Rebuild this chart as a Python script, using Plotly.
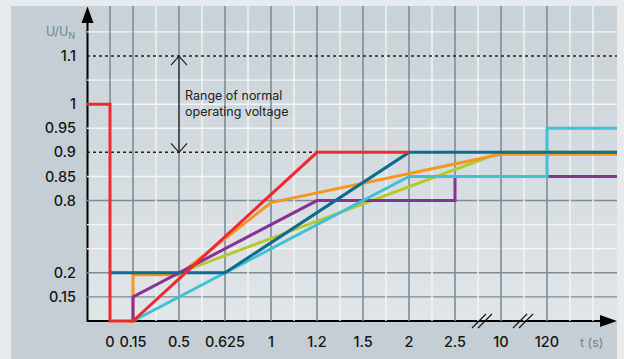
import numpy as np
import plotly.graph_objects as go

# ---------------- data ----------------
t_ticks = [0, 0.15, 0.5, 0.625, 1, 1.2, 1.5, 2, 2.5, 10, 120]
t_tick_labels = ["0", "0.15", "0.5", "0.625", "1", "1.2", "1.5", "2", "2.5", "10", "120"]
v_ticks = [0.15, 0.2, 0.8, 0.85, 0.9, 0.95, 1, 1.1]
v_tick_labels = ["0.15", "0.2", "0.8", "0.85", "0.9", "0.95", "1", "1.1"]

START, END = -np.inf, np.inf   # "from the y axis" / "to the right edge"

red_t = [START, 0, 0, 0.15, 1.2, 2]
red_v = [1, 1, 0, 0, 0.9, 0.9]
darkblue_t = [0, 0.625, 2, END]
darkblue_v = [0.2, 0.2, 0.9, 0.9]
orange_t = [0.15, 0.15, 0.5, 1, 10, END]
orange_v = [0, 0.2, 0.2, 0.8, 0.9, 0.9]
green_t = [0.15, 0.5, 10, END]
green_v = [0.2, 0.2, 0.9, 0.9]
purple_t = [0.15, 0.15, 1.2, 2.5, 2.5, END]
purple_v = [0, 0.15, 0.8, 0.8, 0.85, 0.85]
cyan_t = [0.15, 2, 120, 120, END]
cyan_v = [0, 0.85, 0.85, 0.95, 0.95]

# ---------------- scale (broken axes) ----------------
W, H = 624, 359
L, R, T, B = 85, 7, 6, 36
PW, PH = W - L - R, H - T - B
PX_U = 23.0          # px per x grid unit
PX_ROW = 24.09       # px per y grid row
X_ORIGIN_PX, Y_ORIGIN_PX = 110, 321

t_break = [0, 0.15, 0.5, 0.625, 1, 1.2, 1.5, 2, 2.5, 10, 120]
x_break = [0, 1, 3, 5, 7, 9, 11, 13, 15, 17, 19]
v_break = [0, 0.15, 0.2, 0.8, 0.85, 0.9, 0.95, 1, 1.1]
y_break = [0, 1, 2, 5, 6, 7, 8, 9, 11]

X_LO = (L - X_ORIGIN_PX) / PX_U
X_HI = (W - R - X_ORIGIN_PX) / PX_U
Y_LO = -(H - B - Y_ORIGIN_PX) / PX_ROW
Y_HI = (Y_ORIGIN_PX - T) / PX_ROW
X_AXIS = -1.0


def xmap(ts):
    ts = np.asarray(ts, dtype=float)
    out = np.interp(np.clip(ts, 0, 1e9), t_break, x_break)
    out = np.where(np.isneginf(ts), X_AXIS, out)
    out = np.where(np.isposinf(ts), X_HI, out)
    return out


def ymap(vs):
    return np.interp(np.asarray(vs, dtype=float), v_break, y_break)


def pxX(px):
    return (px - L) / PW


def pxY(py):
    return (H - B - py) / PH


fig = go.Figure()

# ---------------- background ----------------
shapes = []
shapes.append(dict(type="rect", xref="paper", yref="paper", x0=pxX(11), x1=pxX(617),
                   y0=pxY(360), y1=pxY(6), fillcolor="#c4ced4", line=dict(width=0), layer="below"))
top_c = np.array([0xc9, 0xd2, 0xd8])
bot_c = np.array([0xe1, 0xe6, 0xe9])
nb = 40
for i in range(nb):
    y0 = 6 + (321 - 6) * i / nb
    y1 = 6 + (321 - 6) * (i + 1) / nb
    c = top_c + (bot_c - top_c) * (i + 0.5) / nb
    shapes.append(dict(type="rect", xref="paper", yref="paper", x0=pxX(87.5), x1=pxX(617),
                       y0=pxY(y1 + 0.5), y1=pxY(y0), fillcolor="rgb(%d,%d,%d)" % tuple(c),
                       line=dict(width=0), layer="below"))

DARK_GRID = "#7d8c95"
WHITE_GRID = "#f3f5f6"
# horizontal grid
for row in range(1, 13):
    if row in (7, 11):
        continue
    col = DARK_GRID if row in (1, 2, 5) else WHITE_GRID
    shapes.append(dict(type="line", xref="x", yref="y", x0=X_AXIS, x1=X_HI, y0=row, y1=row,
                       line=dict(color=col, width=1.4), layer="below"))
# vertical grid
for u in range(0, 22):
    if u in x_break:
        col, w = DARK_GRID, 1.6
    elif u >= 2:
        col, w = WHITE_GRID, 1.4
    else:
        continue
    shapes.append(dict(type="line", xref="x", yref="y", x0=u, x1=u, y0=0, y1=Y_HI,
                       line=dict(color=col, width=w), layer="below"))
# dotted limits of the normal operating range
for v in (0.9, 1.1):
    yy = float(ymap(v))
    shapes.append(dict(type="line", xref="x", yref="y", x0=X_AXIS, x1=X_HI, y0=yy, y1=yy,
                       line=dict(color="#222222", width=1.5, dash="dot"), layer="below"))

# axes lines
shapes.append(dict(type="line", xref="paper", yref="paper", x0=pxX(87.5), x1=pxX(601),
                   y0=pxY(321), y1=pxY(321), line=dict(color="#000000", width=2), layer="below"))
shapes.append(dict(type="line", xref="paper", yref="paper", x0=pxX(87.5), x1=pxX(87.5),
                   y0=pxY(322), y1=pxY(22), line=dict(color="#000000", width=2), layer="below"))


def ppath(pts):
    return "M " + " L ".join("%.5f,%.5f" % (pxX(a), pxY(b)) for a, b in pts) + " Z"


# arrow heads
shapes.append(dict(type="path", xref="paper", yref="paper",
                   path=ppath([(87.5, 6.5), (81.5, 23), (93.5, 23)]),
                   fillcolor="#000000", line=dict(width=0), layer="above"))
shapes.append(dict(type="path", xref="paper", yref="paper",
                   path=ppath([(617, 321), (600, 315), (600, 327)]),
                   fillcolor="#000000", line=dict(width=0), layer="above"))
# axis break marks
for cx in (482, 523):
    for dx in (-3, 3):
        shapes.append(dict(type="line", xref="paper", yref="paper",
                           x0=pxX(cx + dx - 7), y0=pxY(328), x1=pxX(cx + dx + 7), y1=pxY(314),
                           line=dict(color="#111111", width=1.1), layer="above"))

# double arrow (range of normal operating voltage)
ax_x = float(xmap(0.5))
y_top, y_bot = float(ymap(1.1)), float(ymap(0.9))
hw, hh = 8 / PX_U, 9 / PX_ROW
shapes.append(dict(type="line", xref="x", yref="y", x0=ax_x, x1=ax_x, y0=y_top, y1=y_bot,
                   line=dict(color="#1a1a1a", width=1.1), layer="below"))
shapes.append(dict(type="path", xref="x", yref="y",
                   path="M %f,%f L %f,%f L %f,%f" % (ax_x - hw, y_top - hh, ax_x, y_top, ax_x + hw, y_top - hh),
                   line=dict(color="#1a1a1a", width=1.1), layer="below"))
shapes.append(dict(type="path", xref="x", yref="y",
                   path="M %f,%f L %f,%f L %f,%f" % (ax_x - hw, y_bot + hh, ax_x, y_bot, ax_x + hw, y_bot + hh),
                   line=dict(color="#1a1a1a", width=1.1), layer="below"))

# ---------------- series ----------------
series = [
    ("green", green_t, green_v, "#b2ca2d", 0.0),
    ("orange", orange_t, orange_v, "#f6961f", -2.0),
    ("purple", purple_t, purple_v, "#8a3196", 0.0),
    ("cyan", cyan_t, cyan_v, "#40c0d3", 0.0),
    ("darkblue", darkblue_t, darkblue_v, "#0f6b8e", 0.0),
    ("red", red_t, red_v, "#ee2a30", 0.0),
]
for name, ts, vs, col, off_px in series:
    fig.add_trace(go.Scatter(x=xmap(ts), y=ymap(vs) + off_px / PX_ROW, mode="lines", name=name,
                             line=dict(color=col, width=3), hoverinfo="skip", showlegend=False))

# ---------------- text ----------------
FONT = "Inter, Liberation Sans, Arial"
annotations = [
    dict(xref="x", yref="y", x=ax_x + 4 / PX_U, y=(Y_ORIGIN_PX - 103) / PX_ROW,
         text="Range of normal<br>operating voltage", showarrow=False, xanchor="left", yanchor="middle",
         align="left", font=dict(family=FONT, size=12.5, color="#222222")),
    dict(xref="paper", yref="paper", x=pxX(77), y=pxY(32), text="U/U<sub>N</sub>", showarrow=False,
         xanchor="right", yanchor="middle",
         font=dict(family=FONT, size=12.5, color="#74848e")),
    dict(xref="paper", yref="paper", x=pxX(591), y=pxY(342), text="t (s)", showarrow=False,
         xanchor="center", yanchor="middle",
         font=dict(family=FONT, size=12.5, color="#6f7f89")),
]

tickfont = dict(family=FONT, size=14.5, color="#161616", weight=500)
fig.update_layout(
    width=W, height=H,
    margin=dict(l=L, r=R, t=T, b=B, pad=0),
    paper_bgcolor="#e7ebee",
    plot_bgcolor="rgba(0,0,0,0)",
    shapes=shapes,
    annotations=annotations,
    showlegend=False,
    xaxis=dict(range=[X_LO, X_HI], tickmode="array", tickvals=list(xmap(t_ticks)),
               ticktext=t_tick_labels, showgrid=False, zeroline=False, showline=False,
               ticks="", tickfont=tickfont, ticklabelstandoff=8, fixedrange=True),
    yaxis=dict(range=[Y_LO, Y_HI], tickmode="array", tickvals=list(ymap(v_ticks)),
               ticktext=v_tick_labels, showgrid=False, zeroline=False, showline=False,
               ticks="", tickfont=tickfont, ticklabelstandoff=8, fixedrange=True),
)

fig.write_html("out.html", config={"displayModeBar": False},
               post_script="document.body.style.margin='0px';document.body.style.overflow='hidden';")
